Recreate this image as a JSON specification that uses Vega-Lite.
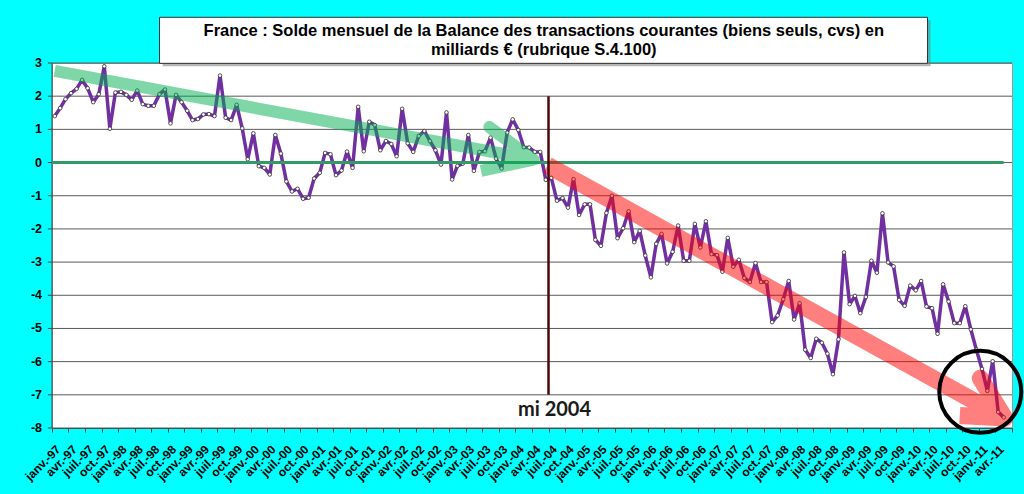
{
  "$schema": "https://vega.github.io/schema/vega-lite/v6.json",
  "width": 960,
  "height": 365,
  "autosize": {"type": "none"},
  "padding": {"left": 52, "top": 63, "right": 12, "bottom": 66},
  "background": "#00FFFF",
  "view": {"fill": "white", "stroke": "#9a9a9a"},
  "config": {"axisY": {"disable": true}},
  "datasets": {
    "solde": [
      {"mois": "1997-01", "solde": 1.40}, {"mois": "1997-02", "solde": 1.64}, {"mois": "1997-03", "solde": 1.91},
      {"mois": "1997-04", "solde": 2.09}, {"mois": "1997-05", "solde": 2.22}, {"mois": "1997-06", "solde": 2.49},
      {"mois": "1997-07", "solde": 2.24}, {"mois": "1997-08", "solde": 1.82}, {"mois": "1997-09", "solde": 2.06},
      {"mois": "1997-10", "solde": 2.90}, {"mois": "1997-11", "solde": 1.02}, {"mois": "1997-12", "solde": 2.11},
      {"mois": "1998-01", "solde": 2.13}, {"mois": "1998-02", "solde": 2.04}, {"mois": "1998-03", "solde": 1.89},
      {"mois": "1998-04", "solde": 2.17}, {"mois": "1998-05", "solde": 1.76}, {"mois": "1998-06", "solde": 1.71},
      {"mois": "1998-07", "solde": 1.71}, {"mois": "1998-08", "solde": 2.06}, {"mois": "1998-09", "solde": 2.20},
      {"mois": "1998-10", "solde": 1.18}, {"mois": "1998-11", "solde": 2.04}, {"mois": "1998-12", "solde": 1.82},
      {"mois": "1999-01", "solde": 1.56}, {"mois": "1999-02", "solde": 1.28}, {"mois": "1999-03", "solde": 1.31},
      {"mois": "1999-04", "solde": 1.45}, {"mois": "1999-05", "solde": 1.46}, {"mois": "1999-06", "solde": 1.40},
      {"mois": "1999-07", "solde": 2.62}, {"mois": "1999-08", "solde": 1.35}, {"mois": "1999-09", "solde": 1.28},
      {"mois": "1999-10", "solde": 1.74}, {"mois": "1999-11", "solde": 1.03}, {"mois": "1999-12", "solde": 0.10},
      {"mois": "2000-01", "solde": 0.88}, {"mois": "2000-02", "solde": -0.11}, {"mois": "2000-03", "solde": -0.16},
      {"mois": "2000-04", "solde": -0.36}, {"mois": "2000-05", "solde": 0.83}, {"mois": "2000-06", "solde": 0.27},
      {"mois": "2000-07", "solde": -0.57}, {"mois": "2000-08", "solde": -0.87}, {"mois": "2000-09", "solde": -0.79},
      {"mois": "2000-10", "solde": -1.09}, {"mois": "2000-11", "solde": -1.06}, {"mois": "2000-12", "solde": -0.48},
      {"mois": "2001-01", "solde": -0.31}, {"mois": "2001-02", "solde": 0.29}, {"mois": "2001-03", "solde": 0.25},
      {"mois": "2001-04", "solde": -0.38}, {"mois": "2001-05", "solde": -0.24}, {"mois": "2001-06", "solde": 0.33},
      {"mois": "2001-07", "solde": -0.16}, {"mois": "2001-08", "solde": 1.68}, {"mois": "2001-09", "solde": 0.34},
      {"mois": "2001-10", "solde": 1.23}, {"mois": "2001-11", "solde": 1.13}, {"mois": "2001-12", "solde": 0.37},
      {"mois": "2002-01", "solde": 0.65}, {"mois": "2002-02", "solde": 0.56}, {"mois": "2002-03", "solde": 0.19},
      {"mois": "2002-04", "solde": 1.62}, {"mois": "2002-05", "solde": 0.58}, {"mois": "2002-06", "solde": 0.32},
      {"mois": "2002-07", "solde": 0.80}, {"mois": "2002-08", "solde": 0.95}, {"mois": "2002-09", "solde": 0.65},
      {"mois": "2002-10", "solde": 0.37}, {"mois": "2002-11", "solde": -0.06}, {"mois": "2002-12", "solde": 1.51},
      {"mois": "2003-01", "solde": -0.51}, {"mois": "2003-02", "solde": -0.10}, {"mois": "2003-03", "solde": -0.03},
      {"mois": "2003-04", "solde": 0.83}, {"mois": "2003-05", "solde": -0.25}, {"mois": "2003-06", "solde": 0.32},
      {"mois": "2003-07", "solde": 0.34}, {"mois": "2003-08", "solde": 0.75}, {"mois": "2003-09", "solde": 0.12},
      {"mois": "2003-10", "solde": -0.18}, {"mois": "2003-11", "solde": 0.90}, {"mois": "2003-12", "solde": 1.30},
      {"mois": "2004-01", "solde": 0.98}, {"mois": "2004-02", "solde": 0.46}, {"mois": "2004-03", "solde": 0.45},
      {"mois": "2004-04", "solde": 0.32}, {"mois": "2004-05", "solde": 0.32}, {"mois": "2004-06", "solde": -0.52},
      {"mois": "2004-07", "solde": -0.46}, {"mois": "2004-08", "solde": -1.15}, {"mois": "2004-09", "solde": -1.07},
      {"mois": "2004-10", "solde": -1.36}, {"mois": "2004-11", "solde": -0.50}, {"mois": "2004-12", "solde": -1.58},
      {"mois": "2005-01", "solde": -1.26}, {"mois": "2005-02", "solde": -1.26}, {"mois": "2005-03", "solde": -2.33},
      {"mois": "2005-04", "solde": -2.51}, {"mois": "2005-05", "solde": -1.52}, {"mois": "2005-06", "solde": -1.00},
      {"mois": "2005-07", "solde": -2.28}, {"mois": "2005-08", "solde": -1.98}, {"mois": "2005-09", "solde": -1.47},
      {"mois": "2005-10", "solde": -2.40}, {"mois": "2005-11", "solde": -2.06}, {"mois": "2005-12", "solde": -2.80},
      {"mois": "2006-01", "solde": -3.46}, {"mois": "2006-02", "solde": -2.45}, {"mois": "2006-03", "solde": -2.15},
      {"mois": "2006-04", "solde": -3.04}, {"mois": "2006-05", "solde": -2.69}, {"mois": "2006-06", "solde": -1.90},
      {"mois": "2006-07", "solde": -2.96}, {"mois": "2006-08", "solde": -2.96}, {"mois": "2006-09", "solde": -1.85},
      {"mois": "2006-10", "solde": -2.56}, {"mois": "2006-11", "solde": -1.77}, {"mois": "2006-12", "solde": -2.76},
      {"mois": "2007-01", "solde": -2.79}, {"mois": "2007-02", "solde": -3.29}, {"mois": "2007-03", "solde": -2.27},
      {"mois": "2007-04", "solde": -3.14}, {"mois": "2007-05", "solde": -2.93}, {"mois": "2007-06", "solde": -3.48},
      {"mois": "2007-07", "solde": -3.60}, {"mois": "2007-08", "solde": -3.03}, {"mois": "2007-09", "solde": -3.60},
      {"mois": "2007-10", "solde": -3.60}, {"mois": "2007-11", "solde": -4.81}, {"mois": "2007-12", "solde": -4.61},
      {"mois": "2008-01", "solde": -4.12}, {"mois": "2008-02", "solde": -3.57}, {"mois": "2008-03", "solde": -4.73},
      {"mois": "2008-04", "solde": -4.24}, {"mois": "2008-05", "solde": -5.64}, {"mois": "2008-06", "solde": -5.89},
      {"mois": "2008-07", "solde": -5.31}, {"mois": "2008-08", "solde": -5.43}, {"mois": "2008-09", "solde": -5.76},
      {"mois": "2008-10", "solde": -6.38}, {"mois": "2008-11", "solde": -5.33}, {"mois": "2008-12", "solde": -2.71},
      {"mois": "2009-01", "solde": -4.27}, {"mois": "2009-02", "solde": -4.02}, {"mois": "2009-03", "solde": -4.54},
      {"mois": "2009-04", "solde": -4.05}, {"mois": "2009-05", "solde": -2.96}, {"mois": "2009-06", "solde": -3.32},
      {"mois": "2009-07", "solde": -1.53}, {"mois": "2009-08", "solde": -3.01}, {"mois": "2009-09", "solde": -3.13},
      {"mois": "2009-10", "solde": -4.14}, {"mois": "2009-11", "solde": -4.32}, {"mois": "2009-12", "solde": -3.71},
      {"mois": "2010-01", "solde": -3.85}, {"mois": "2010-02", "solde": -3.57}, {"mois": "2010-03", "solde": -4.34},
      {"mois": "2010-04", "solde": -4.39}, {"mois": "2010-05", "solde": -5.16}, {"mois": "2010-06", "solde": -3.67},
      {"mois": "2010-07", "solde": -4.19}, {"mois": "2010-08", "solde": -4.84}, {"mois": "2010-09", "solde": -4.84},
      {"mois": "2010-10", "solde": -4.33}, {"mois": "2010-11", "solde": -5.03}, {"mois": "2010-12", "solde": -5.64},
      {"mois": "2011-01", "solde": -6.22}, {"mois": "2011-02", "solde": -6.88}, {"mois": "2011-03", "solde": -5.99},
      {"mois": "2011-04", "solde": -7.52}, {"mois": "2011-05", "solde": -7.68}
    ],
    "fleches": [
      {"fleche": "verte", "ordre": 1, "date": "1997-01-16", "valeur": 2.76},
      {"fleche": "verte", "ordre": 2, "date": "2004-04-10", "valeur": 0.09},
      {"fleche": "verte", "ordre": 3, "date": "2003-08-10", "valeur": 1.07},
      {"fleche": "verte", "ordre": 4, "date": "2004-04-10", "valeur": 0.09},
      {"fleche": "verte", "ordre": 5, "date": "2003-06-25", "valeur": -0.25},
      {"fleche": "rouge", "ordre": 1, "date": "2004-06-26", "valeur": -0.08},
      {"fleche": "rouge", "ordre": 2, "date": "2011-05-22", "valeur": -7.70},
      {"fleche": "rouge", "ordre": 3, "date": "2011-01-07", "valeur": -6.50},
      {"fleche": "rouge", "ordre": 4, "date": "2011-05-22", "valeur": -7.70},
      {"fleche": "rouge", "ordre": 5, "date": "2010-09-16", "valeur": -7.62}
    ],
    "titre": [
      {"date": "2004-06-05", "position": 3.814, "ligne": "France : Solde mensuel de la Balance des transactions courantes (biens seuls, cvs) en"},
      {"date": "2004-06-05", "position": 3.256, "ligne": "milliards € (rubrique S.4.100)"}
    ],
    "grille": [
      {"valeur": -8}, {"valeur": -7}, {"valeur": -6}, {"valeur": -5}, {"valeur": -4}, {"valeur": -3},
      {"valeur": -2}, {"valeur": -1}, {"valeur": 0}, {"valeur": 1}, {"valeur": 2}, {"valeur": 3}
    ]
  },
  "layer": [
    {
      "data": {"name": "grille"},
      "mark": {"type": "rule", "color": "#5a5a5a", "strokeWidth": 1},
      "encoding": {
        "y": {
          "field": "valeur",
          "type": "quantitative",
          "title": null,
          "scale": {"domain": [-8, 3], "nice": false, "zero": false}
        }
      }
    },
    {
      "data": {"values": [{"debut": "1998-09-03", "fin": "2010-04-08", "haut": 4.29, "bas": 2.90}]},
      "mark": {"type": "rect", "color": "#7a7a7a", "opacity": 0.55},
      "encoding": {
        "x": {
          "field": "debut",
          "type": "temporal",
          "title": null,
          "scale": {"type": "utc", "domain": [{"year": 1997, "month": 1, "date": 1, "utc": true}, {"year": 2011, "month": 7, "date": 1, "utc": true}]},
          "axis": {
            "tickCount": {"interval": "month", "step": 3},
            "labelExpr": "datum.value > utc(2011, 5, 1) ? '' : ['janv.','févr.','mars','avr.','mai','juin','juil.','août','sept.','oct.','nov.','déc.'][utcmonth(datum.value)] + '-' + utcFormat(datum.value, '%y')",
            "labelAngle": -45,
            "labelAlign": "right",
            "labelBaseline": "middle",
            "labelFont": "Liberation Sans",
            "labelFontSize": 12,
            "labelFontWeight": "bold",
            "labelColor": "black",
            "labelOverlap": false,
            "labelFlush": false,
            "labelOffset": 6,
            "labelPadding": 15,
            "tickSize": 4,
            "tickColor": "#444444",
            "domainColor": "#444444",
            "grid": false
          }
        },
        "x2": {"field": "fin"},
        "y": {"field": "haut", "type": "quantitative", "title": null},
        "y2": {"field": "bas"}
      }
    },
    {
      "data": {"values": [{"debut": "1998-08-17", "fin": "2010-03-22", "haut": 4.377, "bas": 2.99}]},
      "mark": {"type": "rect", "fill": "white", "stroke": "#333333", "strokeWidth": 1},
      "encoding": {
        "x": {"field": "debut", "type": "temporal", "title": null},
        "x2": {"field": "fin"},
        "y": {"field": "haut", "type": "quantitative", "title": null},
        "y2": {"field": "bas"}
      }
    },
    {
      "data": {"name": "titre"},
      "mark": {"type": "text", "font": "Liberation Sans", "fontSize": 16.5, "fontWeight": "bold", "color": "black", "align": "center", "baseline": "alphabetic"},
      "encoding": {
        "x": {"field": "date", "type": "temporal", "title": null},
        "y": {"field": "position", "type": "quantitative", "title": null},
        "text": {"field": "ligne"}
      }
    },
    {
      "data": {"name": "grille"},
      "transform": [{"filter": "datum.valeur >= -8"}],
      "layer": [
        {
          "data": {"values": [{"debut": "1997-01-01", "haut": 3, "bas": -8}]},
          "mark": {"type": "rule", "color": "#444444", "strokeWidth": 1},
          "encoding": {
            "x": {"field": "debut", "type": "temporal", "title": null},
            "y": {"field": "haut", "type": "quantitative", "title": null},
            "y2": {"field": "bas"}
          }
        },
        {
          "data": {"name": "grille"},
          "mark": {"type": "rule", "color": "#444444", "strokeWidth": 1},
          "encoding": {
            "x": {"datum": {"year": 1996, "month": 12, "date": 9, "utc": true}, "type": "temporal"},
            "x2": {"datum": {"year": 1997, "month": 1, "date": 1, "utc": true}},
            "y": {"field": "valeur", "type": "quantitative", "title": null}
          }
        },
        {
          "data": {"name": "grille"},
          "mark": {"type": "text", "font": "Liberation Sans", "fontSize": 12.5, "fontWeight": "bold", "color": "black", "align": "right", "baseline": "middle", "dx": -10},
          "encoding": {
            "x": {"datum": {"year": 1997, "month": 1, "date": 1, "utc": true}, "type": "temporal"},
            "y": {"field": "valeur", "type": "quantitative", "title": null},
            "text": {"field": "valeur", "type": "nominal"}
          }
        }
      ]
    },
    {
      "data": {"name": "solde"},
      "mark": {
        "type": "line",
        "color": "#7030A0",
        "strokeWidth": 3.5,
        "strokeJoin": "round",
        "point": {"filled": true, "fill": "white", "stroke": "#333333", "strokeWidth": 0.8, "size": 13}
      },
      "encoding": {
        "x": {"field": "mois", "timeUnit": "utcyearmonth", "type": "temporal", "bandPosition": 0.5, "title": null},
        "y": {"field": "solde", "type": "quantitative", "title": null}
      }
    },
    {
      "data": {"values": [{"debut": "1997-01-01", "fin": "2011-05-16", "valeur": 0}]},
      "mark": {"type": "rule", "color": "#339966", "strokeWidth": 3},
      "encoding": {
        "x": {"field": "debut", "type": "temporal", "title": null},
        "x2": {"field": "fin"},
        "y": {"field": "valeur", "type": "quantitative", "title": null}
      }
    },
    {
      "data": {"name": "fleches"},
      "transform": [{"filter": "datum.fleche == 'verte'"}],
      "mark": {"type": "line", "color": "#00B050", "opacity": 0.5, "strokeWidth": 12, "strokeCap": "butt", "strokeJoin": "round"},
      "encoding": {
        "x": {"field": "date", "type": "temporal", "title": null},
        "y": {"field": "valeur", "type": "quantitative", "title": null},
        "order": {"field": "ordre", "type": "quantitative"}
      }
    },
    {
      "data": {"name": "fleches"},
      "transform": [{"filter": "datum.fleche == 'rouge'"}],
      "mark": {"type": "line", "color": "#FF0000", "opacity": 0.5, "strokeWidth": 17, "strokeCap": "butt", "strokeJoin": "round"},
      "encoding": {
        "x": {"field": "date", "type": "temporal", "title": null},
        "y": {"field": "valeur", "type": "quantitative", "title": null},
        "order": {"field": "ordre", "type": "quantitative"}
      }
    },
    {
      "data": {"values": [{"date": "2004-07-01", "haut": 2, "bas": -7, "texte": "mi 2004", "position": -7.45}]},
      "layer": [
        {
          "mark": {"type": "rule", "color": "#4a0808", "strokeWidth": 2.5},
          "encoding": {
            "x": {"field": "date", "type": "temporal", "title": null},
            "y": {"field": "haut", "type": "quantitative", "title": null},
            "y2": {"field": "bas"}
          }
        },
        {
          "mark": {"type": "text", "font": "Lato", "fontSize": 20, "fontWeight": "bold", "color": "#1a1a1a", "align": "center", "baseline": "middle", "dx": 6},
          "encoding": {
            "x": {"field": "date", "type": "temporal", "title": null},
            "y": {"field": "position", "type": "quantitative", "title": null},
            "text": {"field": "texte"}
          }
        }
      ]
    },
    {
      "data": {"values": [{"date": "2011-01-07", "valeur": -6.91}]},
      "mark": {"type": "point", "shape": "circle", "filled": false, "stroke": "black", "strokeWidth": 4, "size": 6724, "opacity": 1},
      "encoding": {
        "x": {"field": "date", "type": "temporal", "title": null},
        "y": {"field": "valeur", "type": "quantitative", "title": null}
      }
    }
  ]
}
